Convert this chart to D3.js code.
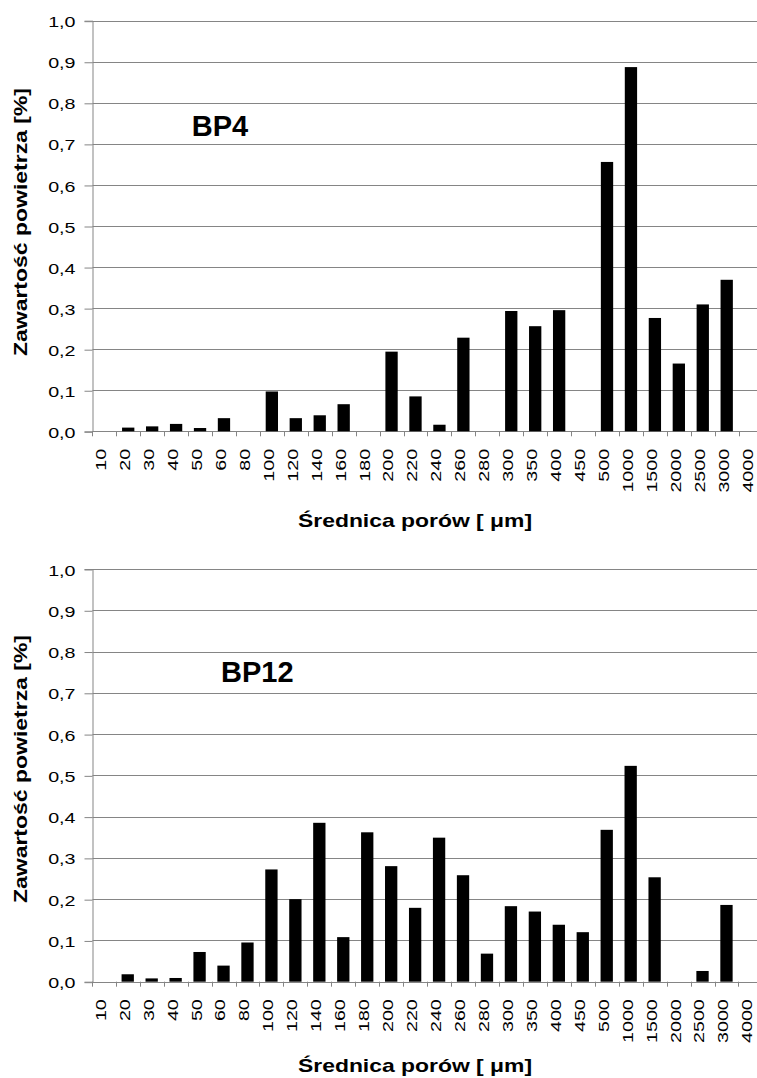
<!DOCTYPE html>
<html><head><meta charset="utf-8">
<script src="https://cdn.jsdelivr.net/npm/d3@7"></script>
<style>
html,body{margin:0;padding:0;background:#fff;}
svg{display:block;font-family:"Liberation Sans",Arial,sans-serif;}
</style></head>
<body>
<svg id="chart" width="757" height="1078"></svg>
<script>
const categories = ["10","20","30","40","50","60","80","100","120","140","160","180","200","220","240","260","280","300","350","400","450","500","1000","1500","2000","2500","3000","4000"];
const bp4Values = [0,0.009,0.012,0.018,0.008,0.032,0,0.097,0.032,0.039,0.066,0,0.194,0.085,0.016,0.228,0,0.293,0.256,0.295,0,0.656,0.887,0.276,0.165,0.309,0.369,0];
const bp12Values = [0,0.018,0.008,0.009,0.072,0.039,0.095,0.272,0.200,0.385,0.108,0.362,0.280,0.179,0.349,0.258,0.068,0.183,0.170,0.138,0.120,0.368,0.523,0.253,0,0.026,0.186,0];
const yTicks = [0,0.1,0.2,0.3,0.4,0.5,0.6,0.7,0.8,0.9,1.0];
const panelLabels = ["BP4","BP12"];
const xTitle = "Średnica porów [ μm]";
const yTitle = "Zawartość powietrza [%]";

const panels = [
  {values: bp4Values, label: panelLabels[0], left: 92.3, step: 23.94, top: 20.7, bottom: 431.3, labelX: 191.7, labelY: 136, xTitleY: 526.7, yTitleY: 222},
  {values: bp12Values, label: panelLabels[1], left: 91.8, step: 23.95, top: 569, bottom: 981.7, labelX: 221, labelY: 682, xTitleY: 1072, yTitleY: 769}
];

const svg = d3.select("#chart");
const fmt = v => d3.format(".1f")(v).replace(".", ",");
const grid = "#858585";
const tickFont = 15.5, stretch = 1.27;

panels.forEach(p => {
  const x = d3.scaleBand().domain(categories)
    .range([p.left, p.left + p.step * categories.length])
    .paddingInner(0.486).paddingOuter(0.243);
  const y = d3.scaleLinear().domain([0, 1]).range([p.bottom, p.top]);
  const g = svg.append("g");
  const ax = Math.round(p.left) + 0.5;

  // gridlines
  g.selectAll("line.grid").data(yTicks).enter().append("line")
    .attr("x1", ax).attr("x2", 757)
    .attr("y1", d => Math.round(y(d)) + 0.5).attr("y2", d => Math.round(y(d)) + 0.5)
    .attr("stroke", grid).attr("stroke-width", 1);

  // y axis
  const yAxis = d3.axisLeft(y).tickValues(yTicks).tickFormat(fmt).tickSize(8).tickPadding(0);
  const ya = g.append("g").attr("transform", `translate(${ax},0)`).call(yAxis);
  ya.select(".domain").attr("stroke", grid);
  ya.selectAll(".tick line").attr("stroke", grid).attr("y1", 0.5).attr("y2", 0.5);
  ya.selectAll(".tick text")
    .attr("font-size", tickFont).attr("fill", "#000")
    .attr("font-family", "'Liberation Sans', Arial, sans-serif")
    .attr("text-anchor", "end").attr("x", 0).attr("dy", "0.36em")
    .attr("transform", `translate(-17,0.5) scale(${stretch},1)`);

  // category boundary ticks
  const bounds = categories.map(c => x(c) + x.bandwidth() / 2 - x.step() / 2);
  g.selectAll("line.bt").data(bounds).enter().append("line")
    .attr("x1", d => Math.round(d) + 0.5).attr("x2", d => Math.round(d) + 0.5)
    .attr("y1", p.bottom).attr("y2", p.bottom + 5)
    .attr("stroke", grid);

  // x axis labels
  const xAxis = d3.axisBottom(x).tickSize(0).tickPadding(0);
  const xa = g.append("g").attr("transform", `translate(0,${p.bottom})`).call(xAxis);
  xa.select(".domain").remove();
  xa.selectAll(".tick text")
    .attr("font-size", tickFont).attr("fill", "#000")
    .attr("font-family", "'Liberation Sans', Arial, sans-serif")
    .attr("text-anchor", "end")
    .attr("transform", `translate(-3.5,17.5) rotate(-90) scale(${stretch},1)`)
    .attr("x", 0).attr("y", 0).attr("dy", "0.35em");

  // bars
  g.selectAll("rect.bar").data(p.values.map((v, i) => ({c: categories[i], v})))
    .enter().append("rect")
    .attr("x", d => x(d.c)).attr("width", x.bandwidth())
    .attr("y", d => y(d.v)).attr("height", d => y(0) - y(d.v))
    .attr("fill", "#000");

  // panel label
  g.append("text").attr("x", p.labelX).attr("y", p.labelY)
    .attr("font-size", 29).attr("font-weight", "bold").text(p.label);

  // axis titles
  g.append("text").attr("x", 415).attr("y", p.xTitleY).attr("text-anchor", "middle")
    .attr("font-size", 18.2).attr("font-weight", "bold")
    .attr("textLength", 234).attr("lengthAdjust", "spacingAndGlyphs").text(xTitle);
  g.append("text").attr("transform", `translate(27,${p.yTitleY}) rotate(-90)`)
    .attr("text-anchor", "middle")
    .attr("font-size", 18.5).attr("font-weight", "bold")
    .attr("textLength", 268).attr("lengthAdjust", "spacingAndGlyphs").text(yTitle);
});
</script>
</body></html>
